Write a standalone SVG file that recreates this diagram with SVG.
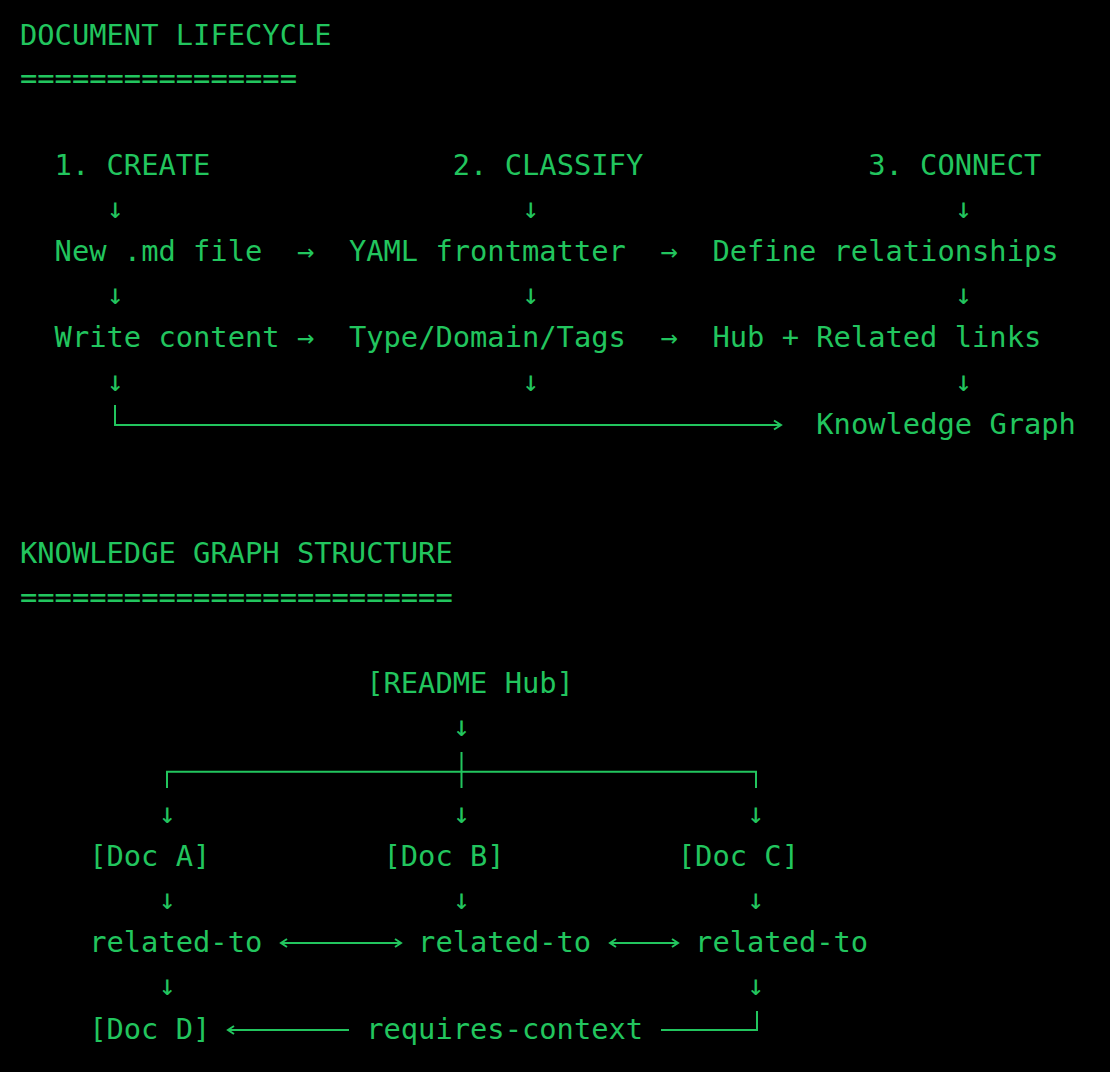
<svg xmlns="http://www.w3.org/2000/svg" width="1110" height="1072" viewBox="0 0 1110 1072">
<style>
.t{font-family:"DejaVu Sans Mono","Liberation Mono",monospace;font-size:28.75px;fill:#22c55e}
.a{font-family:"DejaVu Sans Mono","Liberation Mono",monospace;font-size:28.75px;fill:#22c55e;text-anchor:middle}
.ln{stroke:#22c55e;stroke-width:2;fill:none}
</style>
<rect width="1110" height="1072" fill="#000"/>
<g id="title-lifecycle"><text class="t" x="20" y="45">DOCUMENT LIFECYCLE</text><text class="t" x="20" y="88.2">================</text></g>
<g id="step-create"><text class="t" x="54.6" y="174.6">1. CREATE</text></g>
<g id="step-classify"><text class="t" x="452.8" y="174.6">2. CLASSIFY</text></g>
<g id="step-connect"><text class="t" x="868.2" y="174.6">3. CONNECT</text></g>
<g id="new-md"><text class="t" x="54.6" y="261">New .md file</text></g>
<g id="yaml"><text class="t" x="348.9" y="261">YAML frontmatter</text></g>
<g id="define-rel"><text class="t" x="712.4" y="261">Define relationships</text></g>
<g id="write-content"><text class="t" x="54.6" y="347.4">Write content</text></g>
<g id="type-domain"><text class="t" x="348.9" y="347.4">Type/Domain/Tags</text></g>
<g id="hub-links"><text class="t" x="712.4" y="347.4">Hub + Related links</text></g>
<g id="knowledge-graph"><text class="t" x="816.3" y="433.8">Knowledge Graph</text></g>
<g id="title-structure"><text class="t" x="20" y="563.4">KNOWLEDGE GRAPH STRUCTURE</text><text class="t" x="20" y="606.6">=========================</text></g>
<g id="readme-hub"><text class="t" x="366.2" y="693">[README Hub]</text></g>
<g id="doc-a"><text class="t" x="89.2" y="865.8">[Doc A]</text></g>
<g id="doc-b"><text class="t" x="383.5" y="865.8">[Doc B]</text></g>
<g id="doc-c"><text class="t" x="677.8" y="865.8">[Doc C]</text></g>
<g id="rel-a"><text class="t" x="89.2" y="952.2">related-to</text></g>
<g id="rel-b"><text class="t" x="418.1" y="952.2">related-to</text></g>
<g id="rel-c"><text class="t" x="695.1" y="952.2">related-to</text></g>
<g id="doc-d"><text class="t" x="89.2" y="1038.6">[Doc D]</text></g>
<g id="requires-context"><text class="t" x="366.2" y="1038.6">requires-context</text></g>
<g id="connectors">
<text class="a" x="115.2" y="217.8">↓</text><text class="a" x="530.6" y="217.8">↓</text><text class="a" x="963.4" y="217.8">↓</text>
<text class="a" x="305.6" y="261">→</text><text class="a" x="669.1" y="261">→</text>
<text class="a" x="115.2" y="304.2">↓</text><text class="a" x="530.6" y="304.2">↓</text><text class="a" x="963.4" y="304.2">↓</text>
<text class="a" x="305.6" y="347.4">→</text><text class="a" x="669.1" y="347.4">→</text>
<text class="a" x="115.2" y="390.6">↓</text><text class="a" x="530.6" y="390.6">↓</text><text class="a" x="963.4" y="390.6">↓</text>
<path class="ln" d="M115,405V425H781M774,420.5L781,425L774,429.5"/>
<text class="a" x="461.5" y="736.2">↓</text>
<path class="ln" d="M167,788V771.7H756V788M461.5,752V788"/>
<text class="a" x="167.1" y="822.6">↓</text><text class="a" x="461.5" y="822.6">↓</text><text class="a" x="755.7" y="822.6">↓</text>
<text class="a" x="167.1" y="909">↓</text><text class="a" x="461.5" y="909">↓</text><text class="a" x="755.7" y="909">↓</text>
<path class="ln" d="M281,943H401M287,939L281,943L287,947M395,939L401,943L395,947"/>
<path class="ln" d="M610,943H678M616,939L610,943L616,947M672,939L678,943L672,947"/>
<text class="a" x="167.1" y="995.4">↓</text><text class="a" x="755.7" y="995.4">↓</text>
<path class="ln" d="M228,1030H349M234,1026L228,1030L234,1034"/>
<path class="ln" d="M661,1030H757V1011"/>
</g>
</svg>
